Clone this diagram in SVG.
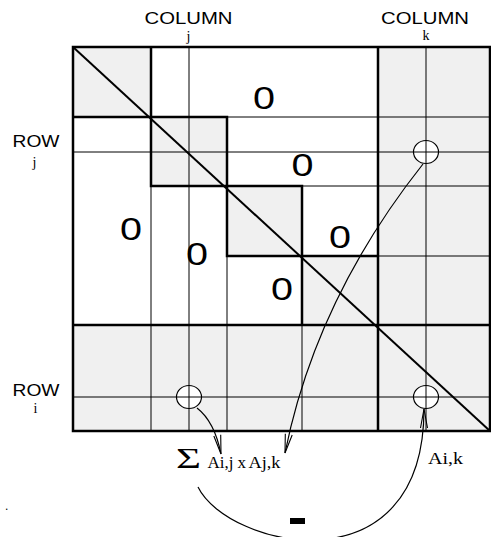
<svg xmlns="http://www.w3.org/2000/svg" width="491" height="537" viewBox="0 0 491 537">
<style>
.bg{fill:#f0f0f0;stroke:none}
.thin{stroke:#000;stroke-width:1;fill:none}
.thick{stroke:#000;stroke-width:2.5;fill:none}
.diag{stroke:#000;stroke-width:2;fill:none}
.circ{fill:none;stroke:#000;stroke-width:1.2}
.hole{fill:#fff;stroke:none}
.arc{fill:none;stroke:#000;stroke-width:1.2}
.sans{font-family:"Liberation Sans",Arial,sans-serif;fill:#000}
.serif{font-family:"Liberation Serif","Times New Roman",serif;fill:#000}
.zero{font-size:31px;text-anchor:middle}
.lab{font-size:16px;text-anchor:middle}
.sub{font-size:14px;text-anchor:middle}
</style>
<defs>
<marker id="vee" markerUnits="userSpaceOnUse" orient="auto" markerWidth="30" markerHeight="30" refX="0" refY="0" viewBox="-25 -10 30 20" overflow="visible">
<path d="M-19,-3.5 L0,0 L-19,3.5" fill="none" stroke="#000" stroke-width="1.1"/>
</marker>
</defs>
<g id="matrix">
<rect class="bg" x="73" y="47" width="78" height="70"/>
<rect class="bg" x="151" y="117" width="76" height="69"/>
<rect class="bg" x="227" y="186" width="75" height="70"/>
<rect class="bg" x="302" y="256" width="76" height="69"/>
<rect class="bg" x="378" y="47" width="112" height="384"/>
<rect class="bg" x="73" y="325" width="417" height="106"/>
<ellipse class="hole" cx="189" cy="397" rx="12.5" ry="11.5"/>
<ellipse class="hole" cx="426" cy="152" rx="12.5" ry="11.5"/>
<ellipse class="hole" cx="426" cy="397" rx="12.5" ry="11.5"/>
<path class="thin" d="M189,47V431 M426,47V431 M73,152H490 M73,397H490 M151,186V431 M227,256V431 M302,325V431 M227,117H490 M302,186H490 M378,256H490"/>
<path class="thick" d="M73,47H490V431H73Z M378,47V431 M73,325H490 M151,47V117H73 M151,117H227V186H151Z M227,186H302V256H227Z M302,256H378V325H302Z"/>
<path class="diag" d="M73,47L490,431"/>
</g>
<g id="node-aij"><ellipse class="circ" cx="189" cy="397" rx="12.5" ry="11.5"/></g>
<g id="node-ajk"><ellipse class="circ" cx="426" cy="152" rx="12.5" ry="11.5"/></g>
<g id="node-aik"><ellipse class="circ" cx="426" cy="397" rx="12.5" ry="11.5"/></g>
<g id="zeros" class="sans zero">
<text x="264" y="108.5" textLength="22" lengthAdjust="spacingAndGlyphs">0</text>
<text x="302.5" y="176" textLength="22" lengthAdjust="spacingAndGlyphs">0</text>
<text x="131" y="240" textLength="22" lengthAdjust="spacingAndGlyphs">0</text>
<text x="197" y="265" textLength="22" lengthAdjust="spacingAndGlyphs">0</text>
<text x="340" y="248" textLength="22" lengthAdjust="spacingAndGlyphs">0</text>
<text x="282" y="300" textLength="22" lengthAdjust="spacingAndGlyphs">0</text>
</g>
<g id="labels">
<text class="sans lab" x="188.5" y="24" textLength="88" lengthAdjust="spacingAndGlyphs">COLUMN</text>
<text class="serif sub" x="188.5" y="40.5">j</text>
<text class="sans lab" x="425" y="24" textLength="88" lengthAdjust="spacingAndGlyphs">COLUMN</text>
<text class="serif sub" x="426" y="40">k</text>
<text class="sans lab" x="36" y="147" textLength="47" lengthAdjust="spacingAndGlyphs">ROW</text>
<text class="serif sub" x="34.5" y="167">j</text>
<text class="sans lab" x="36" y="396" textLength="47" lengthAdjust="spacingAndGlyphs">ROW</text>
<text class="serif sub" x="35.5" y="413" font-size="15">i</text>
<text class="sans" x="5" y="510" font-size="12">.</text>
</g>
<g id="connectors">
<path class="arc" d="M423,164 Q316,299 285,453" marker-end="url(#vee)"/>
<path class="arc" d="M197,408 Q214.5,421.5 221,454" marker-end="url(#vee)"/>
<path class="arc" d="M198,487 C228,548 424,592 424,409" marker-end="url(#vee)"/>
</g>
<g id="formula">
<text class="serif" x="176" y="468" font-size="30" textLength="25" lengthAdjust="spacingAndGlyphs">Σ</text>
<text class="serif" x="207.5" y="468" font-size="16.5" textLength="26" lengthAdjust="spacingAndGlyphs">Ai,j</text>
<text class="serif" x="237.5" y="468" font-size="16.5" textLength="8.5" lengthAdjust="spacingAndGlyphs">x</text>
<text class="serif" x="248.5" y="468" font-size="16.5" textLength="32" lengthAdjust="spacingAndGlyphs">Aj,k</text>
<text class="serif" x="428" y="464" font-size="17" textLength="35" lengthAdjust="spacingAndGlyphs">Ai,k</text>
<rect x="290" y="518" width="15" height="6" fill="#000"/>
</g>
</svg>
